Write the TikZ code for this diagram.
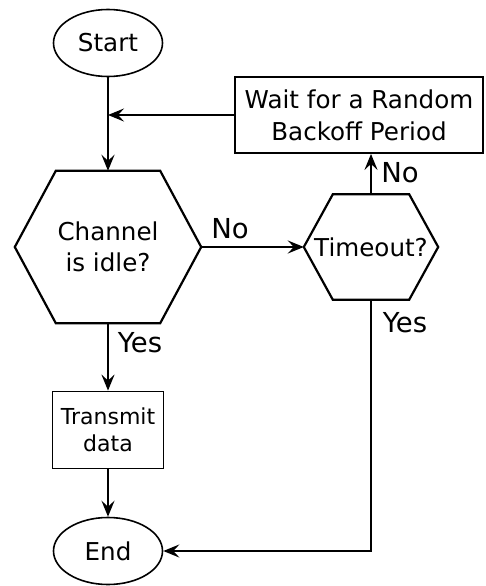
\documentclass[tikz,border=0pt]{standalone}
\usepackage{fontspec}
\setmainfont{DejaVu Sans}
\usetikzlibrary{arrows.meta,shapes.geometric}

\begin{document}
\begin{tikzpicture}[x=1pt, y=-1pt,
  terminal/.style ={ellipse, draw, line width=1.6pt, inner sep=0pt, minimum width=109pt, minimum height=67pt, font=\fontsize{24.6}{32}\selectfont},
  process/.style ={rectangle, draw, line width=1.8pt, inner sep=0pt, align=center},
  decision/.style ={rectangle, inner sep=0pt, align=center, font=\fontsize{24.6}{31}\selectfont},
  rim/.style ={line width=2.2pt, line join=miter},
  flow/.style ={line width=2.2pt, -{Stealth[length=16pt, width=13pt, inset=6pt]}},
  tag/.style ={inner sep=0pt, font=\fontsize{27.5}{33}\selectfont}]
 \useasboundingbox (0,0) rectangle (485,586);
 \node[terminal] (start) at (108,43) {Start};
 \node[decision, minimum width=186pt, minimum height=152pt] (chan) at (108,247) {Channel\\is idle?};
 \node[decision, minimum width=134pt, minimum height=105pt] (timeout) at (371,247) {Timeout?};
 \node[process, minimum width=248pt, minimum height=76pt, font=\fontsize{24.6}{32}\selectfont] (wait) at (359,115) {Wait for a Random\\Backoff Period};
 \node[process, minimum width=111pt, minimum height=77pt, font=\fontsize{22}{27}\selectfont] (send) at (108,430) {Transmit\\data};
 \node[terminal] (end) at (108,551) {End};
 \coordinate (join) at (108,115);
 % hexagons
 \draw[rim] ([xshift=41pt]chan.north west) -- ([xshift=-41pt]chan.north east) -- (chan.east)
   -- ([xshift=-41pt]chan.south east) -- ([xshift=41pt]chan.south west) -- (chan.west) -- cycle;
 \draw[rim] ([xshift=29pt]timeout.north west) -- ([xshift=-29pt]timeout.north east) -- (timeout.east)
   -- ([xshift=-29pt]timeout.south east) -- ([xshift=29pt]timeout.south west) -- (timeout.west) -- cycle;
 % labels
 \node[tag] (noleft) at (230,229) {No};
 \node[tag] (noup) at (400,173) {No};
 \node[tag] (yesdown) at (140,343) {Yes};
 \node[tag] (yesright) at (405,323) {Yes};
 % connectors
 \draw[flow] (start) to (chan.north);
 \draw[flow] (wait.west) to (join);
 \draw[flow] (chan.east) to (timeout.west);
 \draw[flow] (timeout.north) to (timeout.north |- wait.south);
 \draw[flow] (chan.south) to (send.north);
 \draw[flow] (send.south) to (end.north);
 \draw[flow] (timeout.south) |- (end.east);
\end{tikzpicture}
\end{document}
